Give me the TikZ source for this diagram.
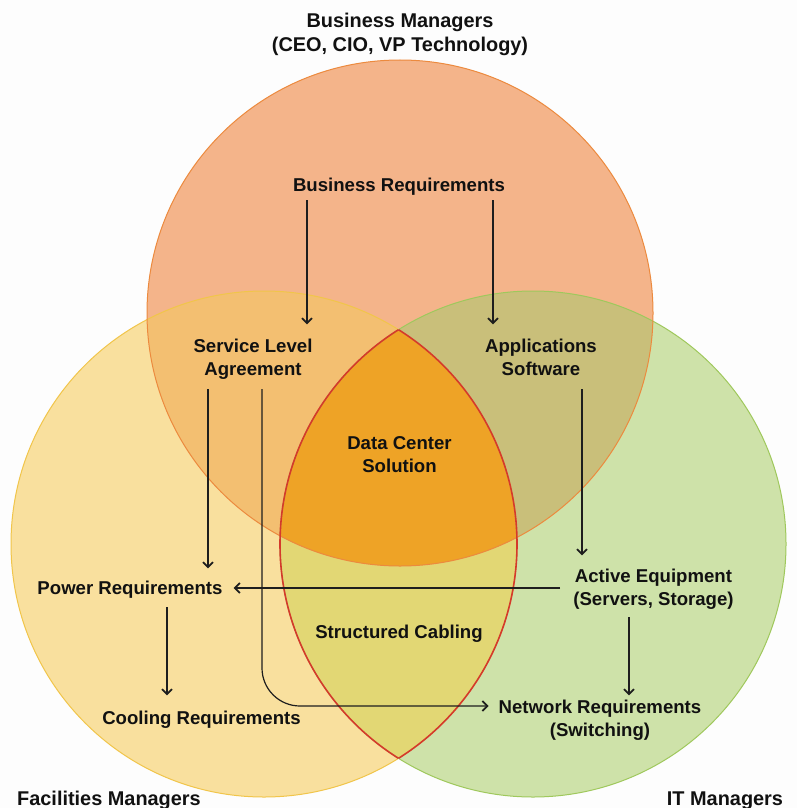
\documentclass[tikz,border=0pt]{standalone}
\usepackage{fontspec}
\setmainfont{Liberation Sans}
\usetikzlibrary{arrows.meta,calc}
\definecolor{bgc}{HTML}{FDFDFD}
\definecolor{topc}{HTML}{F4B48A}
\definecolor{leftc}{HTML}{F9E09E}
\definecolor{rightc}{HTML}{CEE2A9}
\definecolor{tlc}{HTML}{F3BF71}
\definecolor{trc}{HTML}{C9BF7A}
\definecolor{lrc}{HTML}{E2D774}
\definecolor{allc}{HTML}{EEA326}
\definecolor{topstroke}{HTML}{EC8A3E}
\definecolor{leftstroke}{HTML}{F1C54A}
\definecolor{rightstroke}{HTML}{9FC85C}
\definecolor{redc}{HTML}{D43A2B}
\definecolor{arrc}{HTML}{1E1E1E}
\definecolor{txt}{HTML}{111111}
\begin{document}
\begin{tikzpicture}[x=1pt,y=-1pt,
  lbl/.style={font=\fontsize{18.6}{23}\selectfont\bfseries, text=txt, inner sep=0pt, align=center, anchor=base},
  hd/.style={font=\fontsize{19.9}{24}\selectfont\bfseries, text=txt, inner sep=0pt, align=center, anchor=base},
  arr/.style={draw=arrc, line width=1.2pt, -{Straight Barb[length=5pt,width=10pt,line width=1.7pt]}},
  ]
\fill[bgc] (0,0) rectangle (797,808);
\useasboundingbox (0,0) rectangle (797,808);
\def\TopC{(400,313) circle[radius=253pt]}
\def\LeftC{(264,544) circle[radius=253pt]}
\def\RightC{(533,544) circle[radius=253pt]}
% fills
\fill[topc] \TopC;
\fill[leftc] \LeftC;
\fill[rightc] \RightC;
\begin{scope}\clip \TopC; \fill[tlc] \LeftC;\end{scope}
\begin{scope}\clip \TopC; \fill[trc] \RightC;\end{scope}
\begin{scope}\clip \LeftC; \fill[lrc] \RightC;\end{scope}
\begin{scope}\clip \TopC; \clip \LeftC; \fill[allc] \RightC;\end{scope}
% outlines
\draw[leftstroke, line width=1pt] \LeftC;
\draw[rightstroke, line width=1pt] \RightC;
\draw[topstroke, line width=1pt] \TopC;
\begin{scope}\clip \LeftC; \draw[redc, line width=1.6pt] \RightC;\end{scope}
\begin{scope}\clip \RightC; \draw[redc, line width=1.6pt] \LeftC;\end{scope}
% labels (multi-line nodes: base = baseline of the last line)
\node[hd] (bm) at (400,52) {Business Managers\\(CEO, CIO, VP Technology)};
\node[lbl] (br) at (399,191) {Business Requirements};
\node[lbl] (sla) at (253,375) {Service Level\\Agreement};
\node[lbl] (app) at (541,375) {Applications\\Software};
\node[lbl] (dcs) at (399.5,472) {Data Center\\Solution};
\node[lbl] (pow) at (130,594) {Power Requirements};
\node[lbl] (cool) at (201.5,724) {Cooling Requirements};
\node[lbl] (sc) at (399,638) {Structured Cabling};
\node[lbl] (act) at (653.5,605) {Active Equipment\\(Servers, Storage)};
\node[lbl] (net) at (600,736) {Network Requirements\\(Switching)};
\node[hd] (fm) at (109,805) {Facilities Managers};
\node[hd] (itm) at (725,805) {IT Managers};
% connectors
\draw[arr, shorten >=14pt] ([xshift=-92pt,yshift=-5pt]br.south) coordinate (a1) -- (a1 |- sla.north);
\draw[arr, shorten >=14pt] ([xshift=94pt,yshift=-5pt]br.south) coordinate (a2) -- (a2 |- app.north);
\draw[arr, shorten >=12pt] ([xshift=-45pt,yshift=-10pt]sla.south) coordinate (a3) -- (a3 |- pow.north);
\draw[arr, rounded corners=38pt] ([xshift=9pt,yshift=-10pt]sla.south) |- ([xshift=-10pt,yshift=30pt]net.base west);
\draw[arr, shorten >=13pt] ([xshift=41pt,yshift=-14pt]app.south) coordinate (a4) -- (a4 |- act.north);
\draw[arr] ([xshift=-13pt,yshift=17pt]act.base west) -- ([xshift=11pt,yshift=6pt]pow.base east);
\draw[arr, shorten >=15pt] ([xshift=37pt,yshift=-9pt]pow.south) coordinate (a5) -- (a5 |- cool.north);
\draw[arr, shorten >=4pt] ([xshift=-24.5pt,yshift=-8pt]act.south) coordinate (a6) -- (a6 |- net.north);
\end{tikzpicture}
\end{document}
